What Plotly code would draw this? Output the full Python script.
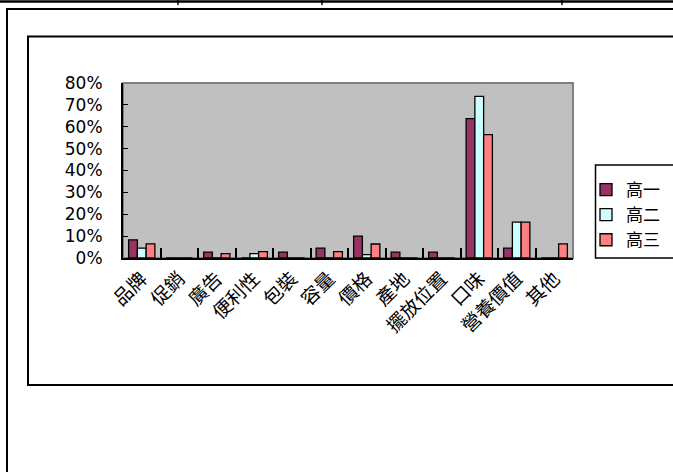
import plotly.graph_objects as go

categories = ["品牌", "促銷", "廣告", "便利性", "包裝", "容量", "價格", "產地", "擺放位置", "口味", "營養價值", "其他"]
series_names = ["高一", "高二", "高三"]
grade1 = [0.083, 0.0, 0.027, 0.0, 0.027, 0.045, 0.100, 0.027, 0.027, 0.637, 0.045, 0.0]
grade2 = [0.045, 0.0, 0.0, 0.020, 0.0, 0.0, 0.015, 0.0, 0.0, 0.739, 0.164, 0.0]
grade3 = [0.065, 0.0, 0.020, 0.029, 0.0, 0.029, 0.064, 0.0, 0.0, 0.564, 0.164, 0.065]
y_ticks = [0, 0.1, 0.2, 0.3, 0.4, 0.5, 0.6, 0.7, 0.8]

colors = ["#993366", "#CCFFFF", "#FF8080"]
FONT = "Noto Sans CJK TC"

W, H = 673, 472
L, R, T, B = 123, 573, 83, 258  # plot area in pixels


def px(x):
    return (x - L) / (R - L)


def py(y):
    return (B - y) / (B - T)


fig = go.Figure()
for name, vals, c in zip(series_names, [grade1, grade2, grade3], colors):
    fig.add_trace(go.Bar(
        x=categories, y=vals, name=name,
        marker=dict(color=c, line=dict(color="black", width=1.3)),
    ))

shapes = []
# top page line and small ticks
shapes.append(dict(type="line", xref="paper", yref="paper", x0=px(-5), x1=px(700), y0=py(1.5), y1=py(1.5),
                   line=dict(color="black", width=2.5)))
for tx in [178, 322, 562]:
    shapes.append(dict(type="line", xref="paper", yref="paper", x0=px(tx), x1=px(tx), y0=py(0), y1=py(5),
                       line=dict(color="black", width=1.5)))
# outer frame
shapes.append(dict(type="rect", xref="paper", yref="paper", x0=px(7), x1=px(700), y0=py(9), y1=py(500),
                   line=dict(color="black", width=2)))
# inner chart box
shapes.append(dict(type="rect", xref="paper", yref="paper", x0=px(28), x1=px(700), y0=py(36.5), y1=py(385),
                   line=dict(color="black", width=2)))
# legend box
shapes.append(dict(type="rect", xref="paper", yref="paper", x0=px(595.5), x1=px(700), y0=py(165), y1=py(258),
                   line=dict(color="black", width=1.5), fillcolor="white", layer="below"))
# plot area border (top/right gray)
shapes.append(dict(type="rect", xref="paper", yref="paper", x0=0, x1=1, y0=0, y1=1,
                   line=dict(color="#808080", width=2), layer="below"))

fig.update_layout(
    width=W, height=H,
    margin=dict(l=L, r=W - R, t=T, b=H - B, autoexpand=False),
    paper_bgcolor="white",
    plot_bgcolor="#C0C0C0",
    barmode="group",
    bargap=0.3,
    bargroupgap=0,
    showlegend=True,
    legend=dict(
        x=px(586), y=py(172), xanchor="left", yanchor="top",
        bgcolor="rgba(0,0,0,0)", borderwidth=0,
        font=dict(family=FONT, size=17, color="black"),
        itemwidth=30, tracegroupgap=0,
    ),
    font=dict(family=FONT, color="black"),
    shapes=shapes,
    xaxis=dict(
        type="category",
        showline=True, linecolor="black", linewidth=2,
        ticks="inside", tickson="boundaries", ticklen=10, tickwidth=1.5, tickcolor="black",
        tickangle=-45,
        tickfont=dict(family=FONT, size=19, color="black"),
        showgrid=False, zeroline=False,
    ),
    yaxis=dict(
        range=[0, 0.8],
        tickvals=y_ticks,
        tickformat=".0%",
        showline=True, linecolor="black", linewidth=2,
        ticks="inside", ticklen=5, tickcolor="black",
        tickfont=dict(family="DejaVu Sans", size=17, color="black"),
        ticklabelstandoff=15,
        showgrid=False, zeroline=False,
    ),
)

fig.write_html("out.html", config={"displayModeBar": False},
               post_script="document.body.style.margin='0';")
